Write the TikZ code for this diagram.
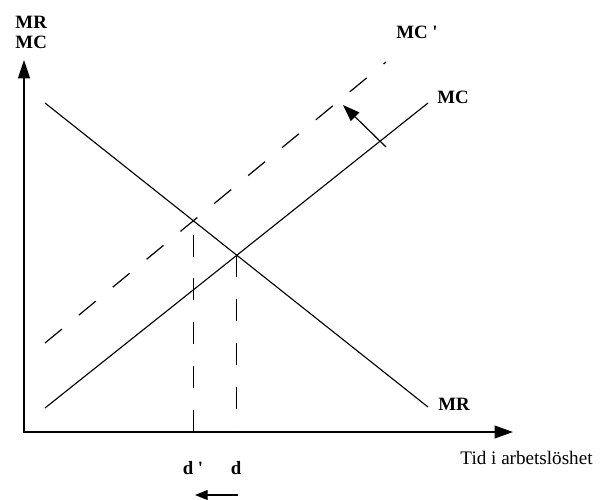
\documentclass[tikz,border=0pt]{standalone}
\usepackage{fontspec}
\setmainfont{Liberation Serif}
\usetikzlibrary{arrows.meta,intersections}

\begin{document}
\begin{tikzpicture}[x=0.025cm,y=-0.025cm,line width=0.7pt,
  axis/.style={line width=1pt,{Triangle[length=13pt,width=8.5pt]}-{Triangle[length=13pt,width=9pt]}},
  curve/.style={line width=0.8pt},
  guide/.style={line width=0.85pt,dash pattern=on 15.6pt off 15.6pt},
  push/.style={line width=0.85pt,-{Triangle[length=12pt,width=8.5pt]}},
  lbl/.style={font=\fontsize{13.4}{14.2}\selectfont\bfseries,inner sep=0pt},
  txt/.style={font=\fontsize{13.6}{14.2}\selectfont,inner sep=0pt}]
\useasboundingbox (0,0) rectangle (604,499);
% axes
\coordinate (O) at (24,432);
\coordinate (ytop) at (24,60);
\coordinate (xend) at (513,432);
\draw[axis] (ytop) -- (O) -- (xend);
% MR, MC and MC'
\coordinate (mr0) at (45,103);
\coordinate (mr1) at (428,407);
\coordinate (mc0) at (45,408);
\coordinate (mc1) at (428,103);
\coordinate (mcb0) at (45,343);
\coordinate (mcb1) at (386,62);
\draw[curve,name path=mr] (mr0) -- (mr1);
\draw[curve,name path=mc] (mc0) -- (mc1);
\draw[guide,name path=mcb] (mcb0) -- (mcb1);
\path[name intersections={of=mr and mc,by=E}];
\path[name intersections={of=mr and mcb,by=Eb}];
\draw[guide] (Eb |- O) -- (Eb);
\draw[guide] (E) -- (E |- O);
% shifts
\coordinate (s0) at (386,147);
\coordinate (s1) at (343,105);
\draw[push] (s0) -- (s1);
\coordinate (m0) at (238,495);
\coordinate (m1) at (195,495);
\draw[line width=0.85pt,-{Triangle[length=9pt,width=7pt]}] (m0) -- (m1);
% labels
\node[lbl,align=left,anchor=west] (ylab) at (15,32) {MR\\MC};
\node[lbl] (mcblab) at (417,32) {MC \textquotesingle};
\node[lbl] (mclab) at (453,97) {MC};
\node[lbl] (mrlab) at (454,404) {MR};
\node[lbl] (dblab) at (193,468) {d \textquotesingle};
\node[lbl] (dlab) at (236,468) {d};
\node[txt,anchor=west] (xlab) at (460,458) {Tid i arbetslöshet};
\end{tikzpicture}
\end{document}
